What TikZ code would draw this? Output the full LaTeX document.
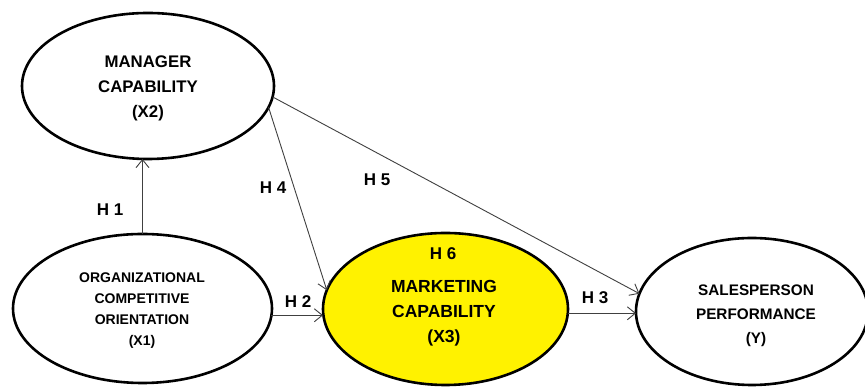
\documentclass[tikz,border=0pt]{standalone}
\usepackage{fontspec}
\setmainfont{Liberation Sans}
\usetikzlibrary{shapes.geometric,arrows.meta,calc}
\begin{document}
\begin{tikzpicture}[x=1pt,y=1pt,
  construct/.style={draw=black,line width=2.6pt,ellipse,inner sep=0pt,outer sep=0pt},
  ctext/.style={align=center,font=\bfseries\fontsize{15.5}{25}\selectfont,inner sep=0pt},
  hlabel/.style={font=\bfseries\fontsize{17}{20}\selectfont,inner sep=0pt},
  link/.style={draw=black!75,line width=0.9pt,-{Straight Barb[length=8pt,width=13pt,line width=0.9pt]}}
]
\useasboundingbox (0,0) rectangle (865,387);
\fill[white] (0,0) rectangle (865,387);
% constructs
\node[construct,minimum width=252pt,minimum height=146pt] (mgr) at (148,301) {};
\node[construct,minimum width=259pt,minimum height=149pt] (org) at (142.5,78.5) {};
\node[construct,fill=yellow,minimum width=245pt,minimum height=152pt] (mkt) at (445.5,78) {};
\node[construct,minimum width=232pt,minimum height=147pt] (sales) at (752,75.5) {};
% texts
\node[ctext,font=\bfseries\fontsize{16.8}{25}\selectfont] (mgrt) at (148,299) {MANAGER\\CAPABILITY\\(X2)};
\node[ctext,font=\bfseries\fontsize{14}{21}\selectfont] (orgt) at (142,76) {ORGANIZATIONAL\\COMPETITIVE\\ORIENTATION\\(X1)};
\node[ctext,font=\bfseries\fontsize{17.5}{25}\selectfont] (mktt) at (444,74) {MARKETING\\CAPABILITY\\(X3)};
\node[ctext,font=\bfseries\fontsize{15.3}{24}\selectfont] (salest) at (756,71) {SALESPERSON\\PERFORMANCE\\(Y)};
% connectors
\draw[link] (org.north) -- (org.north |- mgr.south);
\draw[link] (org.-3) -- (mkt.west |- org.-3);
\draw[link] (mkt.-2) -- (sales.west |- mkt.-2);
\draw[link] (mgr.-10) -- (mkt.171);
\draw[link] (mgr.-5) -- (sales.171);
% labels
\node[hlabel] (h1) at (110,177) {H 1};
\node[hlabel] (h2) at (298,85) {H 2};
\node[hlabel] (h3) at (595,89) {H 3};
\node[hlabel] (h4) at (273,199) {H 4};
\node[hlabel] (h5) at (377,207) {H 5};
\node[hlabel] (h6) at (443,133) {H 6};
\end{tikzpicture}
\end{document}
